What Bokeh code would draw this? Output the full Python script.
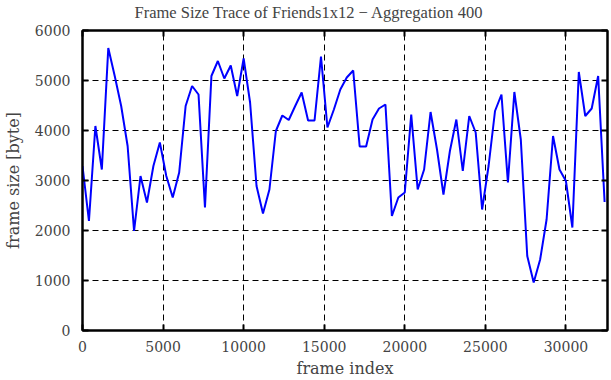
from bokeh.plotting import figure
from bokeh.models import Range1d, LinearAxis, FixedTicker
from bokeh.embed import file_html
from bokeh.resources import INLINE

frame_index = list(range(0, 32401, 400))
frame_size = [
    3290, 2190, 4090, 3220, 5650, 5090, 4490, 3690, 1990, 3090,
    2560, 3290, 3760, 3090, 2660, 3160, 4490, 4890, 4720, 2460,
    5090, 5390, 5040, 5300, 4690, 5440, 4560, 2890, 2340, 2820,
    3990, 4300, 4210, 4490, 4760, 4200, 4200, 5480, 4060, 4420,
    4820, 5060, 5200, 3680, 3680, 4220, 4440, 4520, 2290, 2660,
    2760, 4320, 2820, 3220, 4370, 3620, 2720, 3590, 4220, 3190,
    4290, 3960, 2420, 3290, 4390, 4720, 2960, 4770, 3820, 1490,
    960, 1420, 2220, 3890, 3220, 2990, 2060, 5170, 4290, 4440,
    5090, 2570,
]
x_ticks = [0, 5000, 10000, 15000, 20000, 25000, 30000]
y_ticks = [0, 1000, 2000, 3000, 4000, 5000, 6000]
title_text = "Frame Size Trace of Friends1x12 \u2212 Aggregation 400"

FONT = "DejaVu Serif"
TITLE_FONT = "Liberation Serif"

p = figure(width=611, height=389, output_backend="svg", toolbar_location=None,
           x_range=Range1d(0, 32580), y_range=Range1d(0, 6000),
           min_border_left=81, min_border_right=4, min_border_top=39, min_border_bottom=50,
           title=title_text,
           x_axis_label="frame index", y_axis_label="frame size [byte]",
           margin=(-9, 0, 0, 0))

p.title.align = "left"
p.title.offset = 52
p.title.text_font = TITLE_FONT
p.title.text_font_size = "16.5px"
p.title.text_font_style = "normal"
p.title.standoff = 17

p.outline_line_color = "black"
p.outline_line_width = 2
p.background_fill_color = "white"
p.border_fill_color = "white"

for ax in [p.xaxis[0], p.yaxis[0]]:
    ax.axis_line_color = "black"
    ax.axis_line_width = 2
    ax.major_tick_in = 6
    ax.major_tick_out = 0
    ax.major_tick_line_width = 2
    ax.minor_tick_line_color = None
    ax.major_label_text_font = FONT
    ax.major_label_text_font_size = "14px"
    ax.axis_label_text_font = FONT
    ax.axis_label_text_font_size = "16px"
    ax.axis_label_text_font_style = "normal"

p.xaxis[0].ticker = FixedTicker(ticks=x_ticks)
p.yaxis[0].ticker = FixedTicker(ticks=y_ticks)
p.xaxis[0].major_label_standoff = 10
p.yaxis[0].major_label_standoff = 12
p.xaxis[0].axis_label_standoff = 4
p.yaxis[0].axis_label_standoff = 9

top = LinearAxis(ticker=FixedTicker(ticks=x_ticks))
right = LinearAxis(ticker=FixedTicker(ticks=y_ticks))
for ax in [top, right]:
    ax.axis_line_color = "black"
    ax.axis_line_width = 2
    ax.major_tick_in = 6
    ax.major_tick_out = 0
    ax.major_tick_line_width = 2
    ax.minor_tick_line_color = None
    ax.major_label_text_font_size = "0px"
    ax.major_label_text_alpha = 0
    ax.major_label_standoff = 0
p.add_layout(top, "above")
p.add_layout(right, "right")

p.xgrid.ticker = FixedTicker(ticks=x_ticks)
p.ygrid.ticker = FixedTicker(ticks=y_ticks)
for g in [p.xgrid[0], p.ygrid[0]]:
    g.grid_line_color = "black"
    g.grid_line_dash = "6 4"
    g.grid_line_width = 1

p.line(frame_index, frame_size, line_color="#0000ff", line_width=2)

open("out.html", "w").write(file_html(p, INLINE))
